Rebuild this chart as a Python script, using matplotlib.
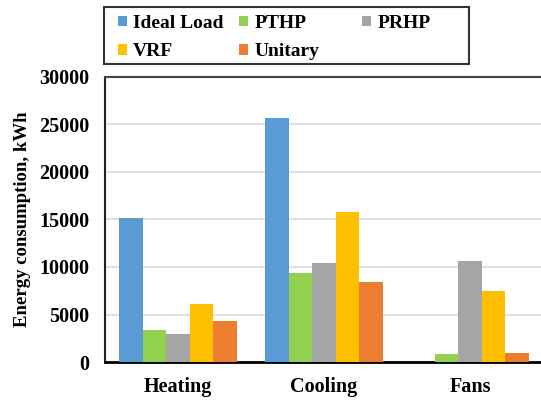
import matplotlib.pyplot as plt
from matplotlib.patches import Rectangle
import numpy as np

plt.rcParams['font.family'] = ['Liberation Serif', 'DejaVu Serif']
plt.rcParams['font.weight'] = 'bold'

categories = ['Heating', 'Cooling', 'Fans']
series = ['Ideal Load', 'PTHP', 'PRHP', 'VRF', 'Unitary']
ideal_load = [15150, 25700, 0]
pthp = [3400, 9370, 880]
prhp = [2980, 10420, 10600]
vrf = [6100, 15780, 7470]
unitary = [4300, 8420, 950]
colors = ['#5B9BD5', '#92D050', '#A5A5A5', '#FFC000', '#ED7D31']
yticks = [0, 5000, 10000, 15000, 20000, 25000, 30000]

values = [ideal_load, pthp, prhp, vrf, unitary]

W, H = 541, 401
fig = plt.figure(figsize=(W / 100, H / 100), dpi=100)
ax = fig.add_axes([105 / W, 1 - 362 / H, 438 / W, 285 / H])

x = np.arange(len(categories))
w = 0.162
handles = []
for i, (name, vals) in enumerate(zip(series, values)):
    b = ax.bar(x + (i - 2) * w, vals, w, color=colors[i], label=name, zorder=3)
    handles.append(b)

ax.set_xlim(-0.5, 2.5)
ax.set_ylim(0, 30000)
ax.set_yticks(yticks)
ax.set_yticklabels([str(t) for t in yticks], fontsize=14.5, fontweight='bold')
ax.set_xticks(x)
ax.set_xticklabels(categories, fontsize=14.5, fontweight='bold')
ax.tick_params(length=0)
ax.tick_params(axis='y', pad=11)
ax.tick_params(axis='x', pad=11)
ax.grid(axis='y', color='#D9D9D9', linewidth=1.2, zorder=0)
ax.set_ylabel('Energy consumption, kWh', fontsize=13.5, fontweight='bold', labelpad=6)

ax.spines['right'].set_color('#CCCCCC')
ax.spines['right'].set_linewidth(1)
ax.spines['top'].set_color('#444444')
ax.spines['top'].set_linewidth(1.5)
ax.spines['left'].set_color('#222222')
ax.spines['left'].set_linewidth(1.5)
ax.spines['bottom'].set_color('black')
ax.spines['bottom'].set_linewidth(2)

# legend: three fixed-width columns like the Excel original
cols = [[0, 3], [1, 4], [2]]
col_x = [108, 229, 352]
for cx, idx in zip(col_x, cols):
    lg = fig.legend([handles[k] for k in idx], [series[k] for k in idx],
                    loc='upper left', bbox_to_anchor=(cx / W, 1 - 5 / H),
                    prop={'weight': 'bold', 'size': 14},
                    handlelength=0.5, handleheight=0.45, handletextpad=0.3,
                    labelspacing=0.6, borderpad=0.0, frameon=False)
fig.patches.append(Rectangle((104 / W, 1 - 64 / H), 365 / W, 57 / H,
                             transform=fig.transFigure, fill=False,
                             edgecolor='#333333', linewidth=1.5))

plt.savefig('out.png', dpi=100)
